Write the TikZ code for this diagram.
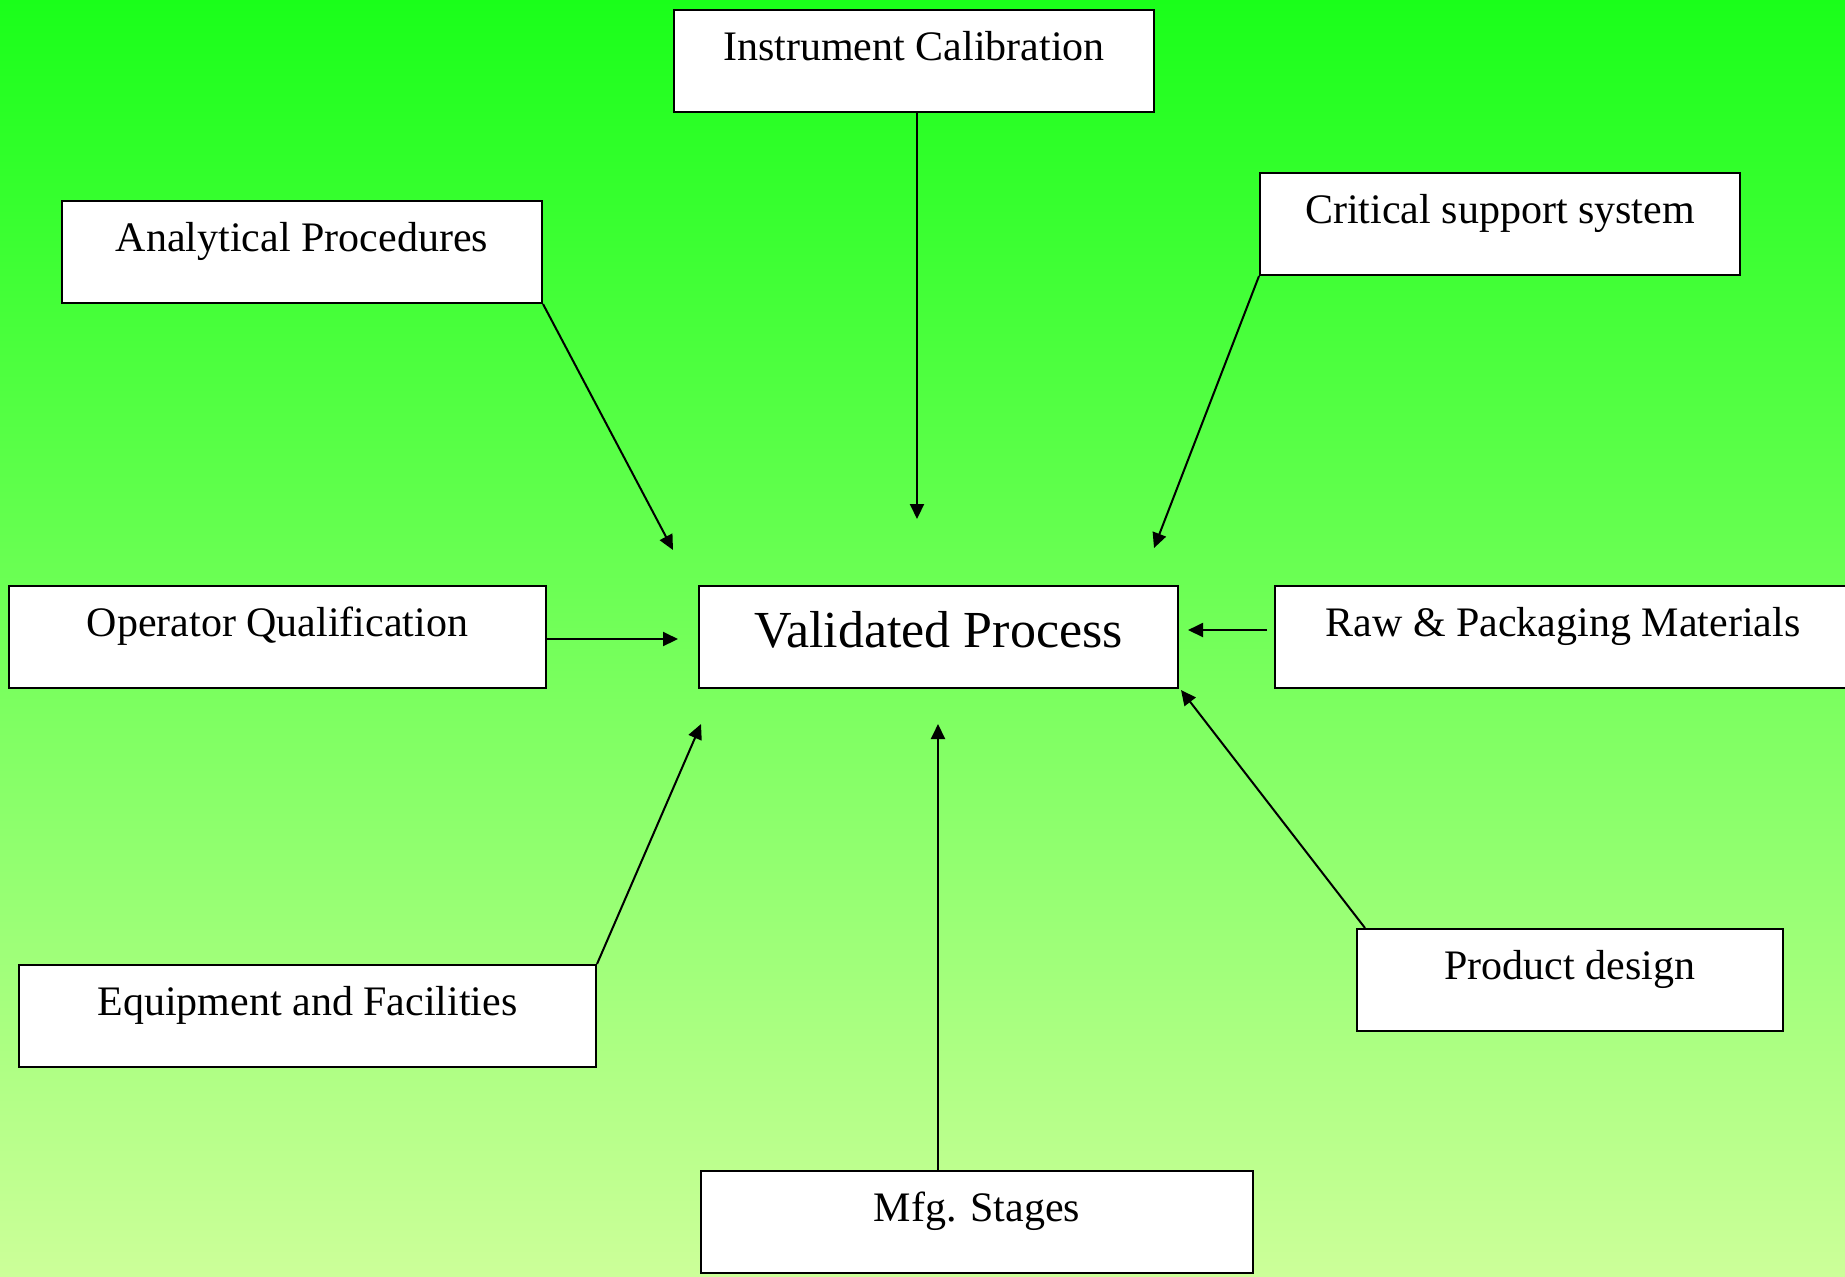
\documentclass[tikz,border=0pt]{standalone}
\usepackage{fontspec}
\setmainfont{Liberation Serif}
\usepackage{tikz}
\usetikzlibrary{arrows.meta,positioning,calc}
\definecolor{bg-top}{RGB}{26,255,26}
\definecolor{bg-bot}{RGB}{204,255,153}
\tikzstyle{a}=[anchor=north west]
\tikzstyle{box}=[a,draw,rectangle,fill=white,line width=1pt,inner xsep=0pt,inner ysep=0pt,align=center,text height=25pt,text depth=26pt,font=\fontsize{21}{25}\selectfont]
\tikzstyle{main}=[box,text height=30.5pt,text depth=20.5pt,font=\fontsize{26}{31}\selectfont]
\tikzstyle{arrow}=[draw,line width=1pt,-{Triangle[length=7.5pt,width=7pt]}]

\begin{document}
\begin{tikzpicture}[x=0.5pt,y=-0.5pt]

  \clip (0,0) rectangle (1845,1276);
  \shade[top color=bg-top,bottom color=bg-bot] (0,0) rectangle (1845,1276);

  \node[box,minimum width=240pt] at (673,9) (instr) {Instrument Calibration};
  \node[box,minimum width=240pt] at (61,200) (anal) {Analytical Procedures};
  \node[box,minimum width=240pt] at (1259,172) (crit) {Critical support system};
  \node[box,minimum width=268.5pt] at (8,585) (oper) {Operator Qualification};
  \node[main,minimum width=239.5pt] at (698,585) (valid) {Validated Process};
  \node[box,minimum width=288pt] at (1274,585) (raw) {Raw \& Packaging Materials};
  \node[box,minimum width=288.5pt] at (18,964) (equip) {Equipment and Facilities};
  \node[box,minimum width=213pt] at (1356,928) (prod) {Product design};
  \node[box,minimum width=276pt] at (700,1170) (mfg) {Mfg. Stages};

  % arrow tips stop short of the centre box
  \coordinate (tipI) at (917,519);
  \coordinate (tipA) at (673,550);
  \coordinate (tipC) at (1154,548);
  \coordinate (tipO) at (678,639);
  \coordinate (tipR) at (1188,630);
  \coordinate (tipP) at (1181,690);
  \coordinate (tipE) at (701,724);
  \coordinate (tipM) at (938,724);

  \draw[arrow] (instr.south-|tipI) -- (tipI);
  \draw[arrow] (anal.south east) -- (tipA);
  \draw[arrow] (crit.south west) -- (tipC);
  \draw[arrow] (oper.east|-tipO) -- (tipO);
  \draw[arrow,shorten <=3.5pt] (raw.west|-tipR) -- (tipR);
  \draw[arrow] ($(prod.north west)+(9,0)$) -- (tipP);
  \draw[arrow] (equip.north east) -- (tipE);
  \draw[arrow] (mfg.north-|tipM) -- (tipM);

\end{tikzpicture}
\end{document}
